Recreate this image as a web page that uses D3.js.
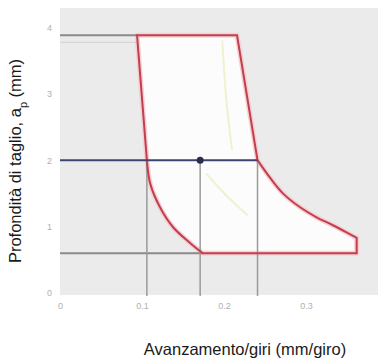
<!DOCTYPE html>
<html>
<head>
<meta charset="utf-8">
<script src="https://cdn.jsdelivr.net/npm/d3@7"></script>
<style>
  body { margin: 0; background: #fff; }
  text { font-family: "Liberation Sans", Arial, sans-serif; }
</style>
</head>
<body>
<svg id="chart"></svg>
<script>
// Chart size
const width = 387;
const height = 360;

// Axis ticks
const xTicks = [0, 0.1, 0.2, 0.3];
const yTicks = [0, 1, 2, 3, 4];

// Application area boundary (feed mm/giro, ap mm)
// left curve: from the middle depth down to the minimum depth
const leftCurveFeed = [0.106, 0.110, 0.122, 0.138, 0.159, 0.174];
const leftCurveAp   = [2.00, 1.65, 1.29, 0.99, 0.75, 0.60];
// right curve: from the right end up to the middle depth
const rightCurveFeed = [0.362, 0.333, 0.313, 0.293, 0.272, 0.256, 0.241];
const rightCurveAp   = [0.83, 1.02, 1.14, 1.29, 1.50, 1.74, 2.00];

// Reference lines
const apMax = 3.88;
const apMid = 2.0;
const apMin = 0.60;
const feedMin = 0.106;
const feedMid = 0.171;
const feedMax = 0.241;
const feedTopLeft = 0.094;
const feedTopRight = 0.216;
const feedRightEnd = 0.362;

// Faint inner guide curves
const guide1Feed = [0.198, 0.203, 0.210];
const guide1Ap   = [3.80, 2.90, 2.15];
const guide2Feed = [0.178, 0.202, 0.229];
const guide2Ap   = [1.80, 1.48, 1.17];

const svg = d3.select("#chart")
  .attr("width", width)
  .attr("height", height);

// Scales
const x = d3.scaleLinear().domain([0, 0.388]).range([60, 378]);
const y = d3.scaleLinear().domain([0, 4.29]).range([293, 8]);

// Plot background
svg.append("rect")
  .attr("x", x(0))
  .attr("y", y(4.29))
  .attr("width", x(0.388) - x(0))
  .attr("height", y(0) - y(4.29) + 2)
  .attr("fill", "#ebebeb");

// Axes (only labels, light and small)
const xAxis = svg.append("g")
  .attr("transform", `translate(0,${y(0) + 2})`)
  .call(d3.axisBottom(x).tickValues(xTicks).tickSize(0).tickPadding(8).tickFormat(d3.format(".1~f")));
xAxis.select(".domain").remove();
xAxis.selectAll("text").attr("fill", "#b0b0b0").attr("font-size", 9);

const yAxis = svg.append("g")
  .attr("transform", `translate(${x(0) - 4},0)`)
  .call(d3.axisLeft(y).tickValues(yTicks).tickSize(0).tickPadding(4).tickFormat(d3.format("d")));
yAxis.select(".domain").remove();
yAxis.selectAll("text").attr("fill", "#b0b0b0").attr("font-size", 9);

// Build the boundary: straight edges plus two smooth curves
const curve = d3.line()
  .x(d => x(d[0]))
  .y(d => y(d[1]))
  .curve(d3.curveCatmullRom.alpha(0.5));
const leftPts = leftCurveFeed.map((f, i) => [f, leftCurveAp[i]]);
const rightPts = rightCurveFeed.map((f, i) => [f, rightCurveAp[i]]);

const boundary =
  `M${x(feedTopLeft)},${y(apMax)}` +
  `L${x(leftPts[0][0])},${y(leftPts[0][1])}` +
  curve(leftPts).replace(/^M[^CL]*/, "") +
  `L${x(feedRightEnd)},${y(apMin)}` +
  `L${x(rightPts[0][0])},${y(rightPts[0][1])}` +
  curve(rightPts).replace(/^M[^CL]*/, "") +
  `L${x(feedTopRight)},${y(apMax)}Z`;

svg.append("path")
  .attr("d", boundary)
  .attr("fill", "#fdfcfd")
  .attr("stroke", "#f4d0d5")
  .attr("stroke-width", 5)
  .attr("stroke-linejoin", "round");

// Faint inner guides
const guide = d3.line().x(d => x(d[0])).y(d => y(d[1])).curve(d3.curveCatmullRom);
svg.append("path")
  .attr("d", guide(guide1Feed.map((f, i) => [f, guide1Ap[i]])))
  .attr("fill", "none").attr("stroke", "#f1f0cf").attr("stroke-width", 2);
svg.append("path")
  .attr("d", guide(guide2Feed.map((f, i) => [f, guide2Ap[i]])))
  .attr("fill", "none").attr("stroke", "#eff1cf").attr("stroke-width", 2);

// Gray reference lines
const gray = "#8a8a8a";
svg.append("line")
  .attr("x1", x(0)).attr("x2", x(feedTopLeft))
  .attr("y1", y(apMax)).attr("y2", y(apMax))
  .attr("stroke", gray).attr("stroke-width", 2);
svg.append("line")
  .attr("x1", x(0)).attr("x2", x(feedTopLeft))
  .attr("y1", y(apMax) + 7).attr("y2", y(apMax) + 7)
  .attr("stroke", "#d0d0d0").attr("stroke-width", 1);
svg.append("line")
  .attr("x1", x(0)).attr("x2", x(leftPts[leftPts.length - 1][0]))
  .attr("y1", y(apMin)).attr("y2", y(apMin))
  .attr("stroke", gray).attr("stroke-width", 2);

[feedMin, feedMid, feedMax].forEach(f => {
  svg.append("line")
    .attr("x1", x(f)).attr("x2", x(f))
    .attr("y1", y(apMid)).attr("y2", y(0) + 3)
    .attr("stroke", "#9a9a9a").attr("stroke-width", 1.5);
});

// Boundary outline
svg.append("path")
  .attr("d", boundary)
  .attr("fill", "none")
  .attr("stroke", "#c23f4d")
  .attr("stroke-width", 2)
  .attr("stroke-linejoin", "miter");

// Selected depth line and point
svg.append("line")
  .attr("x1", x(0)).attr("x2", x(feedMax))
  .attr("y1", y(apMid)).attr("y2", y(apMid))
  .attr("stroke", "#3c4470").attr("stroke-width", 2);

svg.append("circle")
  .attr("cx", x(feedMid))
  .attr("cy", y(apMid))
  .attr("r", 3.5)
  .attr("fill", "#2a2f4a");

// Axis titles
const yTitle = svg.append("text")
  .attr("transform", `translate(21,161) rotate(-90)`)
  .attr("text-anchor", "middle")
  .attr("font-size", 16.5)
  .attr("fill", "#1a1a1a");
yTitle.append("tspan").text("Profondità di taglio, a");
yTitle.append("tspan").attr("baseline-shift", "sub").attr("font-size", 11).text("p");
yTitle.append("tspan").text(" (mm)");

svg.append("text")
  .attr("x", 245)
  .attr("y", 355)
  .attr("text-anchor", "middle")
  .attr("font-size", 16.5)
  .attr("fill", "#1a1a1a")
  .text("Avanzamento/giri (mm/giro)");
</script>
</body>
</html>
